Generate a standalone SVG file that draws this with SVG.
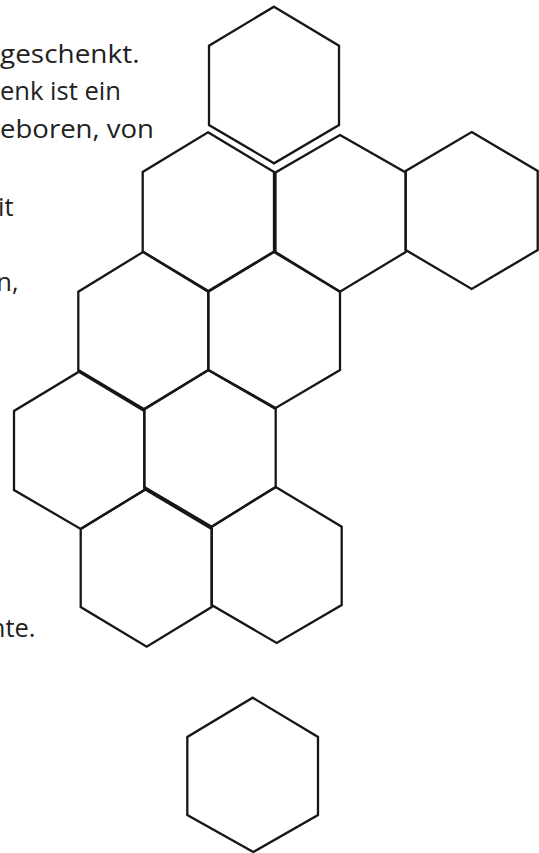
<svg xmlns="http://www.w3.org/2000/svg" width="539" height="853" viewBox="0 0 539 853">
<style>
.hex{fill:none;stroke:#161616;stroke-width:2.3;stroke-linejoin:miter}
.t{font-family:"Open Sans","Noto Sans","DejaVu Sans",sans-serif;font-size:25.5px;fill:#222}
.e{text-anchor:end}
</style>
<rect width="539" height="853" fill="#fff"/>
<g id="text">
<text class="t" x="0" y="63" textLength="139.5" lengthAdjust="spacingAndGlyphs">geschenkt.</text>
<text class="t" x="0" y="100" textLength="121" lengthAdjust="spacingAndGlyphs">enk ist ein</text>
<text class="t" x="0" y="137.5" textLength="154" lengthAdjust="spacingAndGlyphs">eboren, von</text>
<text class="t e" x="13.5" y="215.5">it</text>
<text class="t e" x="18.5" y="291">n,</text>
<text class="t e" x="35.5" y="637">nte.</text>
</g>
<g id="hex-top"><polygon class="hex" points="274,6.7 339,45.7 339,125 274,163.3 209,125 209,45.7"/></g>
<g id="hex-b"><polygon class="hex" points="208,132.3 274,172 274,251.5 208.3,291 142.7,251.5 142.7,172"/></g>
<g id="hex-c"><polygon class="hex" points="340,135 405.7,172.5 405.7,252 340,291.7 275.5,252 275.5,172.5"/></g>
<g id="hex-d"><polygon class="hex" points="471.7,132 537.7,171 537.7,250 471.7,289 405.7,250 405.7,171"/></g>
<g id="hex-e"><polygon class="hex" points="143,252 208.3,291.7 208.3,370 144.3,409.3 78.3,370 78.3,291.7"/></g>
<g id="hex-f"><polygon class="hex" points="274,252 340,291.7 340,370 275.7,408 208.3,370 208.3,291.7"/></g>
<g id="hex-g"><polygon class="hex" points="79,371.7 144.3,411 144.3,490 80.7,529 14,490 14,411"/></g>
<g id="hex-h"><polygon class="hex" points="208.3,370 275.7,409 275.7,487 211.7,526.7 144.3,487 144.3,409"/></g>
<g id="hex-i"><polygon class="hex" points="145.3,489.5 211.7,529 211.7,607 146.7,646.7 80.7,607 80.7,529"/></g>
<g id="hex-j"><polygon class="hex" points="275.7,487 341.7,526.7 341.7,605 276.7,643 211.7,605 211.7,526.7"/></g>
<g id="hex-lone"><polygon class="hex" points="252.7,697.7 318,737 318,815 253.3,852 187.3,815 187.3,737"/></g>
<g id="connectors"/>
</svg>
